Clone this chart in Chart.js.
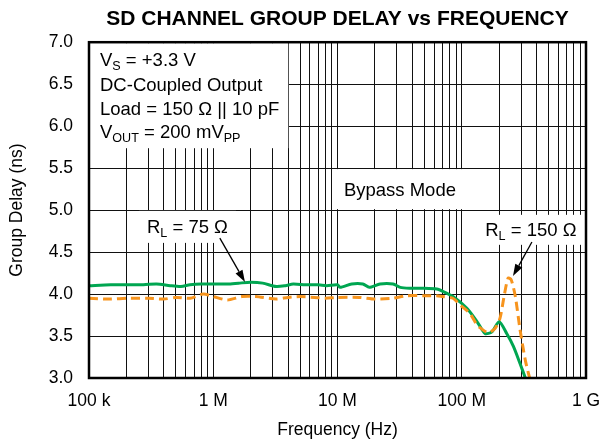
<!DOCTYPE html>
<html>
<head>
<meta charset="utf-8">
<script src="https://cdn.jsdelivr.net/npm/chart.js@4.4.1/dist/chart.umd.min.js"></script>
<style>
  body { margin: 0; background: #fff; }
  canvas { display: block; }
</style>
</head>
<body>
<canvas id="chart" width="599" height="444"></canvas>
<script>
// curve data: frequency (Hz) and group delay (ns)
const freq75 = [1e5, 1.5e5, 2.5e5, 3.5e5, 4.5e5, 5.5e5, 6.5e5, 8e5, 1e6, 1.3e6, 1.6e6, 2e6, 2.5e6, 3.2e6, 3.8e6, 4.4e6,
  5.5e6, 7e6, 8.2e6, 1e7, 1.05e7, 1.3e7, 1.6e7, 1.8e7, 2.2e7, 2.8e7, 3.2e7, 3.8e7, 5e7, 6.3e7, 7.1e7, 8.5e7,
  1.1e8, 1.33e8, 1.54e8, 1.75e8, 2e8, 2.3e8, 2.6e8, 2.95e8, 3.25e8, 3.4e8];
const delay75 = [4.10, 4.11, 4.11, 4.12, 4.10, 4.09, 4.11, 4.12, 4.12, 4.12, 4.13, 4.14, 4.13, 4.09, 4.10, 4.12,
  4.11, 4.11, 4.10, 4.11, 4.08, 4.12, 4.12, 4.08, 4.12, 4.12, 4.08, 4.07, 4.07, 4.06, 4.03, 3.97,
  3.83, 3.67, 3.53, 3.55, 3.67, 3.53, 3.38, 3.17, 3.00, 2.92];

const freq150 = [1e5, 1.5e5, 2e5, 3e5, 4e5, 5e5, 6.5e5, 8.3e5, 1e6, 1.3e6, 1.7e6, 2.2e6, 3.2e6, 4e6, 5e6, 6.5e6,
  8e6, 1e7, 1.5e7, 2e7, 2.8e7, 3.6e7, 5e7, 6.3e7, 7e7, 8.5e7, 9.7e7, 1.16e8, 1.33e8, 1.4e8, 1.63e8, 1.85e8,
  2.03e8, 2.19e8, 2.36e8, 2.5e8, 2.7e8, 2.95e8, 3.25e8, 3.45e8, 3.6e8];
const delay150 = [3.95, 3.94, 3.95, 3.95, 3.94, 3.96, 3.95, 4.00, 3.97, 3.93, 3.97, 3.97, 3.94, 3.96, 3.97, 3.96,
  3.95, 3.96, 3.96, 3.94, 3.95, 3.98, 3.98, 3.98, 3.97, 3.95, 3.87, 3.77, 3.63, 3.60, 3.54, 3.59,
  3.71, 3.97, 4.19, 4.17, 3.97, 3.57, 3.21, 3.05, 2.95];

// axes
const xMajorTicks = [1e5, 1e6, 1e7, 1e8, 1e9];
const xMajorLabels = ['100 k', '1 M', '10 M', '100 M', '1 G'];
const yMin = 3;
const yMax = 7;
const yStep = 0.5;

// minor grid lines 1..9 per decade
const xGridValues = [];
xMajorTicks.forEach((d, i) => {
  xGridValues.push(d);
  if (i < xMajorTicks.length - 1) {
    for (let m = 2; m <= 9; m++) xGridValues.push(m * d);
  }
});

const FONT = '"Liberation Sans", Arial, Helvetica, sans-serif';
const NOTE_SIZE = 18.5;
Chart.defaults.font.family = FONT;
Chart.defaults.color = '#000';

// notes: [text, isSubscript]
const infoLines = [
  [['V', 0], ['S', 1], [' = +3.3 V', 0]],
  [['DC-Coupled Output', 0]],
  [['Load = 150 \u03A9 || 10 pF', 0]],
  [['V', 0], ['OUT', 1], [' = 200 mV', 0], ['PP', 1]]
];
const labels = [
  { x: 3.18e7, y: 5.25, parts: [['Bypass Mode', 0]], padX: 8, halfH: 20 },
  { x: 6.2e5, y: 4.80, parts: [['R', 0], ['L', 1], [' = 75 \u03A9', 0]], padX: 8, halfH: 16 },
  { x: 3.6e8, y: 4.765, parts: [['R', 0], ['L', 1], [' = 150 \u03A9', 0]], padX: 7, halfH: 15 }
];
const arrows = [
  { from: [1.13e6, 4.667], to: [1.8e6, 4.143] },
  { from: [3.67e8, 4.62], to: [2.585e8, 4.214] }
];

function setFont(ctx, sub) {
  ctx.font = `${sub ? NOTE_SIZE * 0.68 : NOTE_SIZE}px ${FONT}`;
}

function partsWidth(ctx, parts) {
  let w = 0;
  parts.forEach(([t, sub]) => {
    setFont(ctx, sub);
    w += ctx.measureText(t).width;
  });
  return w;
}

function fillParts(ctx, parts, x, y) {
  parts.forEach(([t, sub]) => {
    setFont(ctx, sub);
    ctx.fillText(t, x, sub ? y + 4 : y);
    x += ctx.measureText(t).width;
  });
}

function drawArrow(ctx, x1, y1, x2, y2) {
  const a = Math.atan2(y2 - y1, x2 - x1);
  const len = 12, half = 4;
  const bx = x2 - len * Math.cos(a), by = y2 - len * Math.sin(a);
  ctx.beginPath();
  ctx.moveTo(x1, y1);
  ctx.lineTo(bx, by);
  ctx.stroke();
  ctx.beginPath();
  ctx.moveTo(x2, y2);
  ctx.lineTo(bx + half * Math.sin(a), by - half * Math.cos(a));
  ctx.lineTo(bx - half * Math.sin(a), by + half * Math.cos(a));
  ctx.closePath();
  ctx.fill();
}

const notesPlugin = {
  id: 'notes',
  beforeDatasetsDraw(chart) {
    // white boxes behind the notes
    const { ctx, scales: { x, y } } = chart;
    ctx.save();
    ctx.fillStyle = '#fff';
    const left = x.getPixelForValue(xMajorTicks[0]);
    const top = y.getPixelForValue(yMax);
    const infoW = Math.max(...infoLines.map(l => partsWidth(ctx, l)));
    ctx.fillRect(left + 1, top + 1, infoW + 19, 105);
    labels.forEach(l => {
      const cx = x.getPixelForValue(l.x);
      const cy = y.getPixelForValue(l.y);
      const w = partsWidth(ctx, l.parts) + l.padX * 2;
      ctx.fillRect(cx - w / 2, cy - l.halfH, w, l.halfH * 2);
    });
    ctx.restore();
  },
  afterDatasetsDraw(chart) {
    const { ctx, chartArea: a, scales: { x, y } } = chart;
    ctx.save();
    ctx.fillStyle = '#000';
    ctx.strokeStyle = '#000';
    ctx.textBaseline = 'alphabetic';
    ctx.textAlign = 'left';
    const left = x.getPixelForValue(xMajorTicks[0]);
    const top = y.getPixelForValue(yMax);
    const baseOffsets = [24, 49, 73, 96];
    infoLines.forEach((l, i) => fillParts(ctx, l, left + 11, top + baseOffsets[i]));
    labels.forEach(l => {
      const cx = x.getPixelForValue(l.x);
      const cy = y.getPixelForValue(l.y);
      const w = partsWidth(ctx, l.parts);
      fillParts(ctx, l.parts, cx - w / 2, cy + 6.5);
    });
    ctx.lineWidth = 1.3;
    arrows.forEach(ar => {
      drawArrow(ctx,
        x.getPixelForValue(ar.from[0]), y.getPixelForValue(ar.from[1]),
        x.getPixelForValue(ar.to[0]), y.getPixelForValue(ar.to[1]));
    });
    // frame
    ctx.lineWidth = 2.5;
    ctx.strokeRect(a.left, a.top, a.right - a.left, a.bottom - a.top);
    ctx.restore();
  }
};

new Chart(document.getElementById('chart'), {
  type: 'line',
  data: {
    datasets: [
      {
        label: 'R_L = 75 \u03A9',
        data: freq75.map((f, i) => ({ x: f, y: delay75[i] })),
        borderColor: '#00a651',
        borderWidth: 3,
        pointRadius: 0,
        tension: 0.25,
        order: 2
      },
      {
        label: 'R_L = 150 \u03A9',
        data: freq150.map((f, i) => ({ x: f, y: delay150[i] })),
        borderColor: '#f7941d',
        borderWidth: 3,
        borderDash: [9, 5],
        pointRadius: 0,
        tension: 0.25,
        order: 1
      }
    ]
  },
  options: {
    responsive: false,
    animation: false,
    layout: { padding: 0 },
    plugins: {
      legend: { display: false },
      tooltip: { enabled: false },
      title: {
        display: true,
        fullSize: false,
        text: 'SD CHANNEL GROUP DELAY vs FREQUENCY',
        font: { size: 21, weight: 'bold' },
        color: '#000',
        padding: { top: 7, bottom: 10 }
      }
    },
    scales: {
      x: {
        type: 'logarithmic',
        min: xMajorTicks[0],
        max: xMajorTicks[xMajorTicks.length - 1],
        afterBuildTicks: s => { s.ticks = xGridValues.map(v => ({ value: v })); },
        ticks: {
          autoSkip: false,
          maxRotation: 0,
          padding: 13,
          font: { size: 17.5 },
          callback: v => {
            const i = xMajorTicks.indexOf(v);
            return i >= 0 ? xMajorLabels[i] : '';
          }
        },
        grid: { color: '#111', lineWidth: 1, drawTicks: false },
        border: { display: false },
        title: { display: true, text: 'Frequency (Hz)', font: { size: 17.5 }, padding: { top: 0, bottom: 3 } },
        afterFit: s => { s.height = 66; s.paddingLeft = 0; s.paddingRight = 13; }
      },
      y: {
        min: yMin,
        max: yMax,
        ticks: {
          stepSize: yStep,
          padding: 16,
          font: { size: 17.5 },
          callback: v => v.toFixed(1)
        },
        grid: { color: '#111', lineWidth: 1, drawTicks: false },
        border: { display: false },
        title: { display: true, text: 'Group Delay (ns)', font: { size: 17.5 }, padding: { top: 7, bottom: 0 } },
        afterFit: s => { s.width = 89; s.paddingTop = 0; s.paddingBottom = 0; }
      }
    }
  },
  plugins: [notesPlugin]
});
</script>
</body>
</html>
